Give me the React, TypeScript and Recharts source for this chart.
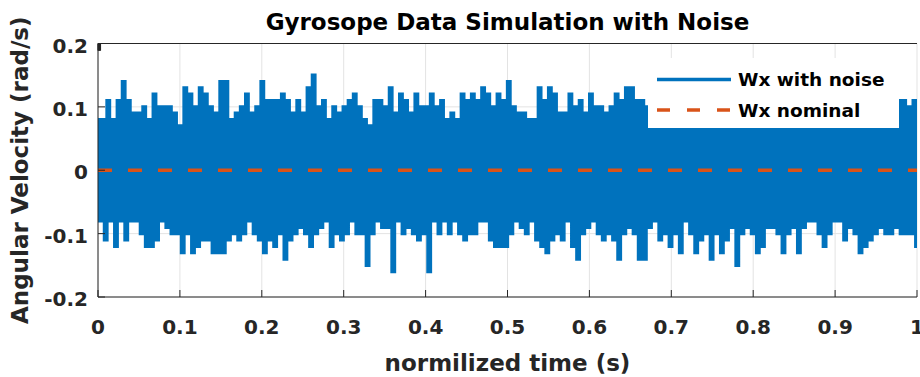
import { LineChart, Line, XAxis, YAxis, CartesianGrid, Legend } from "recharts";

const FONT = '"DejaVu Sans", "Liberation Sans", sans-serif';
const AXIS = "#262626";
const GRID = "#e3e3e3";
const BLUE = "#0072BD";
const ORANGE = "#D95319";
const TICK_LEN = 7;

const xTicks = [0, 0.1, 0.2, 0.3, 0.4, 0.5, 0.6, 0.7, 0.8, 0.9, 1];
const yTicks = [-0.2, -0.1, 0, 0.1, 0.2];

// upper edge of the noisy trace, one value per ~5px column
// (the stretch under the legend box is hidden in the original, values are guesses)
const wxPeaks = [
  0.08, 0.08, 0.11, 0.08, 0.11, 0.14, 0.11, 0.09, 0.09, 0.1, 0.08, 0.12, 0.1, 0.1, 0.1, 0.09, 0.07, 0.13,
  0.12, 0.1, 0.13, 0.12, 0.1, 0.09, 0.14, 0.14, 0.08, 0.09, 0.1, 0.12, 0.09, 0.1, 0.14, 0.11, 0.11, 0.11,
  0.12, 0.11, 0.09, 0.11, 0.09, 0.13, 0.15, 0.1, 0.11, 0.08, 0.1, 0.09, 0.1, 0.11, 0.12, 0.1, 0.08, 0.07,
  0.11, 0.11, 0.1, 0.13, 0.09, 0.12, 0.11, 0.09, 0.12, 0.1, 0.1, 0.12, 0.1, 0.11, 0.08, 0.09, 0.08, 0.12,
  0.11, 0.12, 0.11, 0.13, 0.12, 0.1, 0.12, 0.11, 0.14, 0.1, 0.09, 0.09, 0.08, 0.08, 0.13, 0.11, 0.13, 0.12,
  0.09, 0.09, 0.12, 0.1, 0.11, 0.09, 0.12, 0.1, 0.1, 0.09, 0.1, 0.12, 0.11, 0.13, 0.13, 0.11,
  0.11, 0.1, 0.09, 0.12, 0.1, 0.08, 0.11, 0.13, 0.1, 0.09, 0.12, 0.11, 0.08, 0.1, 0.12, 0.09, 0.11, 0.14,
  0.1, 0.09, 0.11, 0.12, 0.08, 0.1, 0.13, 0.09, 0.1, 0.11, 0.12, 0.09, 0.1, 0.08, 0.11, 0.13, 0.1, 0.12,
  0.09, 0.1, 0.11, 0.08, 0.12, 0.1, 0.09, 0.13, 0.11, 0.1, 0.09, 0.12, 0.1, 0.11, 0.11, 0.11, 0.1, 0.11,
];

// lower edge of the noisy trace
const wxTroughs = [
  -0.08, -0.11, -0.08, -0.12, -0.08, -0.11, -0.08, -0.08, -0.1, -0.12, -0.12, -0.11, -0.08, -0.09, -0.1, -0.1, -0.13, -0.1,
  -0.13, -0.12, -0.11, -0.11, -0.13, -0.13, -0.13, -0.11, -0.1, -0.11, -0.1, -0.08, -0.1, -0.11, -0.13, -0.11, -0.12, -0.1,
  -0.14, -0.11, -0.1, -0.09, -0.1, -0.12, -0.1, -0.09, -0.08, -0.12, -0.1, -0.11, -0.1, -0.08, -0.1, -0.1, -0.15, -0.1,
  -0.08, -0.09, -0.09, -0.16, -0.08, -0.1, -0.09, -0.1, -0.11, -0.1, -0.16, -0.08, -0.1, -0.08, -0.1, -0.08, -0.1, -0.11,
  -0.1, -0.1, -0.08, -0.08, -0.11, -0.12, -0.12, -0.12, -0.1, -0.08, -0.09, -0.1, -0.08, -0.11, -0.12, -0.13, -0.11, -0.1,
  -0.11, -0.08, -0.12, -0.14, -0.1, -0.09, -0.08, -0.1, -0.11, -0.1, -0.11, -0.14, -0.1, -0.09, -0.1, -0.14,
  -0.14, -0.09, -0.08, -0.11, -0.1, -0.12, -0.1, -0.13, -0.08, -0.1, -0.13, -0.11, -0.1, -0.14, -0.1, -0.13, -0.11, -0.09,
  -0.15, -0.1, -0.09, -0.1, -0.13, -0.12, -0.09, -0.09, -0.1, -0.13, -0.1, -0.09, -0.13, -0.09, -0.08, -0.08, -0.1, -0.12,
  -0.1, -0.08, -0.08, -0.11, -0.09, -0.1, -0.13, -0.12, -0.11, -0.1, -0.09, -0.1, -0.1, -0.09, -0.1, -0.1, -0.1, -0.12,
];

const wxNominal = 0;

// peaks and troughs alternate, spread evenly over the normalised time axis
const samples = wxPeaks.length * 2;
const data = wxPeaks.flatMap((peak, i) => [
  { t: (2 * i) / (samples - 1), wx: peak, nominal: wxNominal },
  { t: (2 * i + 1) / (samples - 1), wx: wxTroughs[i], nominal: wxNominal },
]);

const legendOrder = ["wx", "nominal"];

const tickText = { fontFamily: FONT, fontWeight: "bold", fontSize: 20, fill: AXIS } as const;
const labelText = { fontFamily: FONT, fontWeight: "bold", fontSize: 23, fill: AXIS } as const;

function BottomTick({ x, y, payload }: any) {
  return (
    <g>
      <line x1={x} y1={y} x2={x} y2={y - TICK_LEN} stroke={AXIS} />
      <text x={x} y={y + 37} textAnchor="middle" {...tickText}>
        {String(payload.value)}
      </text>
    </g>
  );
}

function TopTick({ x, y }: any) {
  return <line x1={x} y1={y} x2={x} y2={y + TICK_LEN} stroke={AXIS} />;
}

function LeftTick({ x, y, payload }: any) {
  return (
    <g>
      <line x1={x} y1={y} x2={x + TICK_LEN} y2={y} stroke={AXIS} />
      <text x={x - 10} y={y + 9} textAnchor="end" {...tickText}>
        {String(payload.value)}
      </text>
    </g>
  );
}

function RightTick({ x, y }: any) {
  return <line x1={x} y1={y} x2={x - TICK_LEN} y2={y} stroke={AXIS} />;
}

function TitleLabel({ viewBox }: any) {
  const cx = viewBox ? viewBox.x + viewBox.width / 2 : 508;
  return (
    <text x={cx} y={30} textAnchor="middle" {...labelText} fill="#000">
      Gyrosope Data Simulation with Noise
    </text>
  );
}

function XLabel({ viewBox }: any) {
  const cx = viewBox ? viewBox.x + viewBox.width / 2 : 508;
  const y = viewBox ? viewBox.y + 74 : 371;
  return (
    <text x={cx} y={y} textAnchor="middle" {...labelText}>
      normilized time (s)
    </text>
  );
}

function YLabel({ viewBox }: any) {
  const x = (viewBox ? viewBox.x : 0) + 28;
  const cy = viewBox ? viewBox.y + viewBox.height / 2 : 170;
  return (
    <text x={x} y={cy} transform={`rotate(-90 ${x} ${cy})`} textAnchor="middle" {...labelText}>
      Angular Velocity (rad/s)
    </text>
  );
}

function LegendBox({ payload }: any) {
  const items = [...(payload ?? [])].sort(
    (a: any, b: any) => legendOrder.indexOf(a.dataKey) - legendOrder.indexOf(b.dataKey)
  );
  return (
    <svg width={251} height={70} style={{ display: "block", background: "#fff" }}>
      {items.map((entry: any, i: number) => {
        const dashed = entry.dataKey === "nominal";
        const cy = 21.5 + i * 30.5;
        return (
          <g key={String(entry.dataKey)}>
            <line
              x1={9}
              y1={cy}
              x2={83}
              y2={cy}
              stroke={entry.color}
              strokeWidth={3.5}
              strokeDasharray={dashed ? "13 17" : undefined}
            />
            <text x={90} y={cy + 6.5} fontFamily={FONT} fontWeight="bold" fontSize={18.5} fill="#000">
              {entry.value}
            </text>
          </g>
        );
      })}
    </svg>
  );
}

export default function App() {
  return (
    <div style={{ position: "absolute", left: 0, top: 0, width: 920, height: 377, background: "#fff" }}>
      <LineChart width={920} height={377} data={data} margin={{ top: 0, right: 3, bottom: 0, left: 0 }}>
        <CartesianGrid stroke={GRID} />
        <XAxis
          dataKey="t"
          type="number"
          domain={[0, 1]}
          ticks={xTicks}
          interval={0}
          allowDataOverflow
          height={80}
          tick={BottomTick}
          tickLine={false}
          tickSize={0}
          tickMargin={0}
          axisLine={{ stroke: AXIS }}
          label={{ content: XLabel }}
        />
        <XAxis
          xAxisId="top"
          orientation="top"
          type="number"
          domain={[0, 1]}
          ticks={xTicks}
          interval={0}
          allowDataOverflow
          height={43.5}
          tick={TopTick}
          tickLine={false}
          tickSize={0}
          tickMargin={0}
          axisLine={{ stroke: AXIS }}
          label={{ content: TitleLabel }}
        />
        <YAxis
          type="number"
          domain={[-0.2, 0.2]}
          ticks={yTicks}
          interval={0}
          allowDataOverflow
          width={98}
          tick={LeftTick}
          tickLine={false}
          tickSize={0}
          tickMargin={0}
          axisLine={{ stroke: AXIS }}
          label={{ content: YLabel }}
        />
        <YAxis
          yAxisId="right"
          orientation="right"
          type="number"
          domain={[-0.2, 0.2]}
          ticks={yTicks}
          interval={0}
          allowDataOverflow
          width={0}
          tick={RightTick}
          tickLine={false}
          tickSize={0}
          tickMargin={0}
          axisLine={{ stroke: AXIS }}
        />
        <Line
          type="step"
          dataKey="wx"
          name="Wx with noise"
          stroke={BLUE}
          strokeWidth={3.3}
          dot={false}
          isAnimationActive={false}
        />
        <Line
          type="linear"
          dataKey="nominal"
          name="Wx nominal"
          stroke={ORANGE}
          strokeWidth={3.5}
          strokeDasharray="14 16"
          dot={false}
          isAnimationActive={false}
        />
        <Legend
          layout="vertical"
          align="center"
          verticalAlign="middle"
          itemSorter={null}
          wrapperStyle={{ left: 648, top: 58, width: 251, height: 70 }}
          content={LegendBox}
        />
      </LineChart>
    </div>
  );
}
